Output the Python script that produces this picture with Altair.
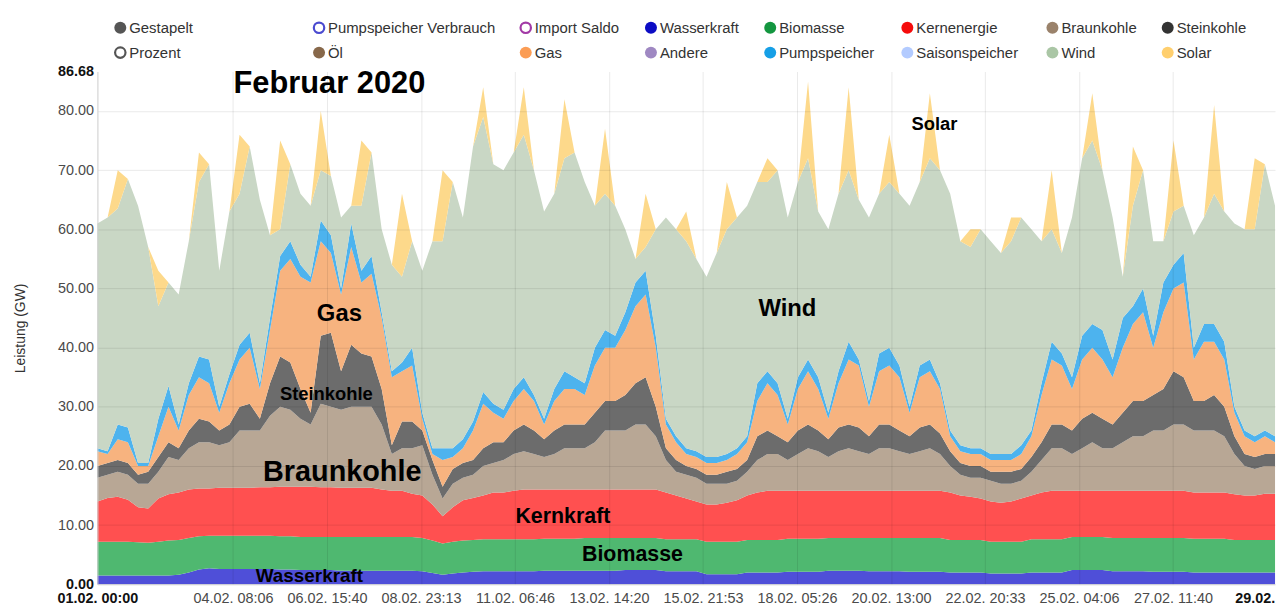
import altair as alt
import pandas as pd
from datetime import datetime, timezone

# ---------------- data: 6-hourly samples, 01.02.2020 00:00 .. 01.03.2020 00:00 (GW) ----------------
start = pd.Timestamp("2020-02-01 00:00", tz="UTC")
times = pd.date_range(start, periods=117, freq="6h")

wasserkraft = [
    1.5, 1.5, 1.5, 1.5,  1.5, 1.5, 1.5, 1.5,  1.6, 2.0, 2.5, 2.7,  2.6, 2.6, 2.6, 2.6,
    2.6, 2.6, 2.5, 2.5,  2.4, 2.4, 2.4, 2.4,  2.3, 2.3, 2.3, 2.3,  2.3, 2.3, 2.3, 2.3,
    2.2, 1.9, 1.6, 1.8,  2.0, 2.1, 2.2, 2.2,  2.2, 2.2, 2.2, 2.2,  2.3, 2.3, 2.3, 2.3,
    2.3, 2.3, 2.3, 2.3,  2.4, 2.4, 2.4, 2.4,  2.2, 2.2, 2.2, 2.2,  1.7, 1.7, 1.7, 1.7,
    2.0, 2.0, 2.0, 2.0,  2.1, 2.1, 2.1, 2.1,  2.3, 2.3, 2.3, 2.3,  2.2, 2.2, 2.2, 2.2,
    2.1, 2.1, 2.1, 2.1,  2.0, 2.0, 2.0, 2.0,  1.8, 1.8, 1.8, 1.8,  2.0, 2.0, 2.0, 2.0,
    2.4, 2.4, 2.4, 2.4,  2.2, 2.2, 2.2, 2.2,  2.1, 2.1, 2.1, 2.1,  2.0, 2.0, 2.0, 2.0,
    2.0, 2.0, 2.0, 2.0,  2.0]
biomasse = [
    5.7, 5.7, 5.7, 5.7,  5.6, 5.5, 5.7, 5.9,  5.9, 5.8, 5.6, 5.5,  5.6, 5.6, 5.6, 5.6,
    5.6, 5.6, 5.6, 5.6,  5.6, 5.6, 5.6, 5.6,  5.7, 5.7, 5.7, 5.7,  5.7, 5.7, 5.7, 5.7,
    5.6, 5.5, 5.3, 5.4,  5.4, 5.4, 5.4, 5.4,  5.4, 5.4, 5.4, 5.4,  5.4, 5.4, 5.4, 5.4,
    5.5, 5.5, 5.5, 5.5,  5.4, 5.4, 5.4, 5.4,  5.4, 5.4, 5.4, 5.4,  5.5, 5.5, 5.5, 5.5,
    5.5, 5.5, 5.5, 5.5,  5.6, 5.6, 5.6, 5.6,  5.5, 5.5, 5.5, 5.5,  5.6, 5.6, 5.6, 5.6,
    5.7, 5.7, 5.7, 5.7,  5.5, 5.5, 5.5, 5.5,  5.4, 5.4, 5.4, 5.4,  5.6, 5.6, 5.6, 5.6,
    5.6, 5.6, 5.6, 5.6,  5.6, 5.6, 5.6, 5.6,  5.7, 5.7, 5.7, 5.7,  5.7, 5.7, 5.7, 5.7,
    5.5, 5.5, 5.5, 5.5,  5.5]
kernenergie = [
    6.8, 7.4, 7.6, 7.1,  5.9, 5.8, 7.3, 7.8,  8.0, 8.2, 8.1, 8.0,  8.1, 8.1, 8.1, 8.1,
    8.2, 8.2, 8.4, 8.4,  8.5, 8.5, 8.4, 8.4,  8.3, 8.3, 8.3, 8.3,  8.0, 7.8, 7.8, 7.3,
    7.2, 6.1, 4.6, 5.8,  6.8, 7.1, 7.4, 7.9,  7.9, 8.2, 8.4, 8.4,  8.3, 8.3, 8.3, 8.3,
    8.2, 8.2, 8.2, 8.2,  8.2, 8.2, 8.2, 8.2,  7.9, 7.4, 6.9, 6.4,  6.3, 6.3, 6.6, 7.0,
    7.5, 8.0, 8.3, 8.3,  8.1, 8.1, 8.1, 8.1,  8.0, 8.0, 8.0, 8.0,  8.0, 8.0, 8.0, 8.0,
    8.0, 8.0, 8.0, 8.0,  8.0, 7.5, 7.3, 7.0,  6.8, 6.6, 6.8, 7.3,  7.4, 7.9, 8.2, 8.2,
    7.8, 7.8, 7.8, 7.8,  8.0, 8.0, 8.0, 8.0,  8.0, 8.0, 8.0, 8.0,  7.8, 7.8, 7.8, 7.8,
    7.7, 7.5, 7.5, 7.8,  7.8]
braunkohle = [
    4.0, 3.9, 4.2, 4.2,  4.0, 4.2, 4.5, 6.3,  5.5, 7.0, 7.8, 7.8,  7.2, 7.7, 9.7, 9.7,
    9.6, 12.1, 13.5, 13.0,  11.5, 10.5, 14.1, 13.6,  13.2, 13.7, 13.7, 13.7,  11.0, 6.2, 7.2, 7.7,
    8.5, 5.0, 3.0, 4.0,  3.8, 3.9, 5.0, 5.0,  5.5, 6.2, 6.5, 6.0,  5.5, 6.0, 7.0, 7.0,
    7.0, 8.0, 10.0, 10.0,  10.0, 11.0, 11.0, 9.0,  5.5, 4.0, 4.0, 4.0,  3.5, 3.5, 3.2, 3.3,
    4.0, 5.5, 6.2, 6.2,  5.2, 6.2, 7.2, 6.7,  5.7, 6.7, 7.2, 6.7,  6.2, 7.2, 7.2, 6.7,
    6.2, 6.7, 7.2, 6.2,  4.5, 3.5, 3.2, 3.5,  3.5, 3.2, 3.0, 3.0,  4.0, 5.5, 7.2, 7.2,
    6.2, 7.2, 8.2, 7.2,  7.2, 8.2, 9.2, 9.2,  10.2, 10.2, 11.2, 11.2,  10.5, 10.5, 10.5, 9.5,
    6.8, 5.0, 4.5, 4.7,  4.7]
steinkohle = [
    2.0, 2.0, 2.0, 2.0,  1.5, 2.0, 2.5, 2.5,  2.0, 3.0, 4.0, 3.5,  2.5, 3.0, 4.0, 4.5,
    2.0, 5.5, 8.5, 8.0,  5.0, 2.0, 11.5, 12.5,  6.5, 10.5, 9.0, 8.5,  6.0, 1.5, 4.5, 4.5,
    2.5, 2.5, 2.0, 2.5,  2.5, 2.5, 3.0, 3.5,  3.0, 4.0, 4.5, 4.0,  3.0, 4.0, 4.0, 4.0,
    4.0, 5.0, 5.0, 5.0,  6.0, 7.0, 8.0, 5.0,  2.0, 2.0, 1.5, 1.5,  1.5, 1.5, 2.0, 2.0,
    2.0, 4.0, 4.0, 3.0,  3.0, 4.0, 4.0, 3.5,  3.0, 4.0, 4.0, 4.0,  3.0, 4.0, 4.0, 3.5,
    3.0, 4.0, 4.0, 3.5,  2.5, 2.0, 2.0, 2.0,  1.5, 2.0, 2.0, 2.0,  2.5, 3.0, 4.0, 4.0,
    4.0, 5.0, 5.0, 5.0,  4.0, 5.0, 6.0, 6.0,  6.0, 7.0, 9.0, 8.0,  5.0, 5.0, 6.0, 5.0,
    3.0, 2.0, 2.0, 2.0,  2.0]
gas = [
    2.5, 1.5, 3.5, 3.5,  1.5, 1.0, 3.5, 6.0,  3.0, 6.0, 7.0, 6.5,  3.0, 7.0, 8.0, 9.5,
    5.0, 9.0, 14.5, 17.5,  19.0, 22.0, 16.0, 13.5,  13.0, 16.5, 12.0, 14.0,  12.0, 11.5, 8.5, 9.5,
    2.0, 1.0, 4.5, 2.0,  2.5, 5.0, 7.5, 5.0,  4.0, 5.0, 6.0, 5.0,  2.5, 5.0, 6.0, 6.0,
    5.0, 8.0, 9.0, 9.0,  11.0, 13.0, 14.0, 10.0,  4.0, 3.0, 2.0, 2.0,  2.0, 2.0, 2.0, 2.5,
    3.0, 6.0, 8.0, 7.0,  3.0, 7.0, 9.0, 7.0,  3.5, 7.5, 11.0, 10.5,  5.0, 9.0, 10.0, 9.0,
    4.0, 8.5, 9.0, 7.5,  2.5, 2.0, 2.0, 2.0,  2.0, 2.0, 2.0, 2.5,  3.5, 8.0, 11.0, 10.0,
    7.0, 10.0, 11.0, 10.0,  8.0, 11.0, 13.0, 15.0,  8.0, 13.0, 14.0, 16.0,  7.0, 10.0, 9.0, 8.0,
    4.0, 3.0, 2.5, 3.0,  2.0]
pumpspeicher = [
    0.5, 0.5, 2.5, 2.5,  0.5, 0.5, 3.0, 3.5,  1.0, 2.0, 3.5, 4.0,  1.0, 1.5, 2.5, 2.5,
    1.0, 2.0, 2.5, 3.0,  2.0, 1.0, 3.5, 3.0,  1.0, 4.0, 2.0, 3.0,  1.0, 1.0, 1.5, 3.0,
    1.0, 1.0, 2.0, 1.5,  1.5, 1.5, 2.0, 1.5,  1.5, 2.0, 2.0, 1.0,  1.0, 2.0, 3.0, 2.0,
    2.0, 3.0, 3.0, 2.0,  3.0, 4.0, 4.0, 2.0,  1.0, 1.0, 1.0, 1.0,  1.0, 1.0, 1.0, 1.0,
    1.0, 3.0, 2.0, 2.0,  1.0, 2.0, 2.0, 2.0,  1.0, 2.0, 3.0, 1.0,  1.0, 3.0, 3.0, 2.0,
    1.0, 2.0, 2.0, 1.0,  1.0, 1.0, 1.0, 1.0,  1.0, 1.0, 1.0, 1.5,  1.0, 2.0, 3.0, 2.0,
    2.0, 4.0, 4.0, 5.0,  3.0, 5.0, 3.0, 4.0,  2.0, 5.0, 4.0, 5.0,  2.0, 3.0, 3.0, 3.0,
    1.0, 1.0, 1.0, 1.0,  1.0]
wind = [
    38.0, 39.5, 36.5, 42.0,  43.5, 36.5, 19.0, 17.5,  22.0, 24.0, 29.5, 33.0,  23.0, 27.5, 25.5, 31.5,
    31.0, 14.0, 4.5, 13.0,  12.0, 12.0, 8.5, 10.0,  12.0, 3.0, 11.0, 17.5,  14.0, 18.0, 14.5, 18.0,
    24.0, 35.0, 35.0, 45.0,  37.5, 46.5, 46.5, 40.5,  40.5, 40.0, 41.0, 38.0,  35.0, 33.0, 36.0, 38.0,
    34.0, 24.0, 23.0, 22.0,  14.0, 4.0, 4.0, 18.0,  34.0, 35.0, 35.0, 32.5,  30.5, 34.5, 38.0, 39.0,
    39.0, 34.0, 32.0, 36.0,  34.0, 33.0, 34.0, 28.0,  31.0, 30.0, 29.0, 27.0,  31.0, 27.0, 28.0, 29.0,
    34.0, 31.0, 34.0, 36.0,  40.0, 34.5, 34.0, 37.0,  36.0, 34.0, 36.0, 38.5,  34.0, 24.0, 19.0, 17.0,
    27.0, 30.0, 31.0, 27.0,  24.0, 7.0, 17.0, 20.0,  16.0, 7.0, 9.0, 8.0,  19.0, 18.0, 22.0, 22.0,
    31.0, 34.0, 35.0, 45.0,  39.0]
solar = [
    0, 0, 6.5, 0,  0, 0, 6.0, 0,  0, 0, 5.0, 0,  0, 0, 10.0, 0,
    0, 0, 15.0, 0,  0, 0, 10.0, 0,  0, 0, 11.0, 0,  0, 0, 14.0, 0,
    0, 0, 12.0, 0,  0, 0, 5.0, 0,  0, 0, 8.0, 0,  0, 0, 10.0, 0,
    0, 0, 11.0, 0,  0, 0, 9.0, 0,  0, 0, 5.0, 0,  0, 0, 8.0, 0,
    0, 0, 4.0, 0,  0, 0, 13.0, 0,  0, 0, 14.0, 0,  0, 0, 8.0, 0,
    0, 0, 11.0, 0,  0, 0, 3.0, 0,  0, 0, 4.0, 0,  0, 0, 10.0, 0,
    0, 0, 8.0, 0,  0, 0, 10.0, 0,  0, 0, 12.0, 0,  0, 0, 15.0, 0,
    0, 0, 12.0, 0,  0]

sources = ["Wasserkraft", "Biomasse", "Kernenergie", "Braunkohle", "Steinkohle",
           "Gas", "Pumpspeicher", "Wind", "Solar"]
series = [wasserkraft, biomasse, kernenergie, braunkohle, steinkohle,
          gas, pumpspeicher, wind, solar]
area_colors = ["#4f4fd8", "#4fb870", "#ff5050", "#b8a795", "#6c6c6c",
               "#f7b37f", "#4db3ee", "#c9d7c5", "#fdd98b"]

# axis tick labels
x_tick_labels = ["01.02. 00:00", "04.02. 08:06", "06.02. 15:40", "08.02. 23:13",
                 "11.02. 06:46", "13.02. 14:20", "15.02. 21:53", "18.02. 05:26",
                 "20.02. 13:00", "22.02. 20:33", "25.02. 04:06", "27.02. 11:40", "29.02."]
y_tick_values = [0, 10, 20, 30, 40, 50, 60, 70, 80, 86.68]

# legend entries (column-major: row 1, row 2 per column)
legend_names = ["Gestapelt", "Prozent", "Pumpspeicher Verbrauch", "Öl", "Import Saldo", "Gas",
                "Wasserkraft", "Andere", "Biomasse", "Pumpspeicher", "Kernenergie",
                "Saisonspeicher", "Braunkohle", "Wind", "Steinkohle", "Solar"]
legend_colors = ["#555555", "#555555", "#4a4ad0", "#87684a", "#a23aa6", "#fb9d55",
                 "#0c0cc4", "#9f88c2", "#13963f", "#169fe6", "#f50b0b",
                 "#b3cbff", "#9a826b", "#aac6a5", "#333333", "#ffcf6e"]
legend_hollow = ["Prozent", "Pumpspeicher Verbrauch", "Import Saldo"]

# annotations: (text, hours since start, GW, font size)
annotations = [
    ("Februar 2020", 137.1, 84.5, 31),
    ("Gas", 143.0, 45.7, 24),
    ("Steinkohle", 135.3, 32.1, 18.5),
    ("Braunkohle", 144.7, 19.0, 29),
    ("Kernkraft", 275.1, 11.4, 21.5),
    ("Biomasse", 316.2, 4.9, 21.5),
    ("Wasserkraft", 125.3, 1.35, 19),
    ("Wind", 407.8, 46.5, 24),
    ("Solar", 494.7, 77.8, 18.5),
]

# ---------------- build tables ----------------
def ms(ts):
    return int(ts.timestamp() * 1000)

start_ms = ms(start)
end_ms = ms(times[-1])

rows = []
for i, t in enumerate(times):
    for k, (name, vals) in enumerate(zip(sources, series)):
        rows.append({"t": ms(t), "source": name, "order": k, "gw": vals[i]})
df = pd.DataFrame(rows)

tick_ms = []
for lab in x_tick_labels:
    if len(lab) > 7:
        d = datetime.strptime("2020 " + lab, "%Y %d.%m. %H:%M").replace(tzinfo=timezone.utc)
    else:
        d = datetime.strptime("2020 " + lab + " 12:00", "%Y %d.%m. %H:%M").replace(tzinfo=timezone.utc)
    tick_ms.append(int(d.timestamp() * 1000))
last_tick = tick_ms[-1]

# legend layout (pixels relative to plot area)
col_x = [23, 223, 431, 557, 677, 815, 961, 1077]
row_y = [-44, -19]
leg = pd.DataFrame({
    "name": legend_names,
    "col": legend_colors,
    "lx": [col_x[i // 2] for i in range(len(legend_names))],
    "ly": [row_y[i % 2] for i in range(len(legend_names))],
    "hollow": [n in legend_hollow for n in legend_names],
})

ann = pd.DataFrame({
    "label": [a[0] for a in annotations],
    "t": [start_ms + int(a[1] * 3600000) for a in annotations],
    "v": [a[2] for a in annotations],
    "fs": [a[3] for a in annotations],
})

FONT = "Liberation Sans"
GRID = "#000000"

x_enc = alt.X(
    "t:T",
    scale=alt.Scale(type="utc", domain=[start_ms, end_ms], nice=False),
    axis=alt.Axis(
        title=None, values=tick_ms, ticks=False, labelPadding=7, labelFontSize=14.5,
        labelOverlap=False, labelFlush=False, zindex=1,
        labelExpr=f"datum.value >= {last_tick} ? '29.02.' : utcFormat(datum.value, '%d.%m. %H:%M')",
        labelColor={"condition": {"test": f"datum.value <= {start_ms} || datum.value >= {last_tick}", "value": "#111111"}, "value": "#4a4a4a"},
        labelFontWeight={"condition": {"test": f"datum.value <= {start_ms} || datum.value >= {last_tick}", "value": "bold"}, "value": "normal"},
        gridOpacity={"condition": {"test": f"datum.value >= {last_tick} || datum.value <= {start_ms}", "value": 0}, "value": 0.09},
        gridColor=GRID, domainColor="#cccccc",
    ),
)
y_enc = alt.Y(
    "gw:Q", stack="zero",
    scale=alt.Scale(domain=[0, 86.68], nice=False, zero=True),
    axis=alt.Axis(
        title="Leistung (GW)", values=y_tick_values, format=".2f", ticks=False,
        labelPadding=4, labelFontSize=14.5, titleFontSize=14, titleFontWeight="normal",
        titleColor="#333333", titlePadding=30, zindex=1,
        labelColor={"condition": {"test": "datum.value == 0 || datum.value > 85", "value": "#111111"}, "value": "#4a4a4a"},
        labelFontWeight={"condition": {"test": "datum.value == 0 || datum.value > 85", "value": "bold"}, "value": "normal"},
        gridOpacity={"condition": {"test": "datum.value == 0 || datum.value > 85", "value": 0}, "value": 0.09},
        gridColor=GRID, domainColor="#cccccc",
    ),
)

areas = alt.Chart(df).mark_area(interpolate="linear").encode(
    x=x_enc,
    y=y_enc,
    color=alt.Color("source:N", scale=alt.Scale(domain=sources, range=area_colors), legend=None),
    order=alt.Order("order:Q", sort="ascending"),
)

texts = alt.Chart(ann).mark_text(font=FONT, fontWeight="bold", color="#000000",
                                 align="center", baseline="middle").encode(
    x=alt.X("t:T"),
    y=alt.Y("v:Q"),
    text="label:N",
    size=alt.Size("fs:Q", scale=None, legend=None),
)

leg_filled = alt.Chart(leg).transform_filter("!datum.hollow").mark_circle(size=145, opacity=1).encode(
    x=alt.X("lx:Q", scale=None, axis=None),
    y=alt.Y("ly:Q", scale=None, axis=None),
    color=alt.Color("col:N", scale=None, legend=None),
)
leg_hollow = alt.Chart(leg).transform_filter("datum.hollow").mark_point(
    size=110, filled=False, strokeWidth=2.2, opacity=1).encode(
    x=alt.X("lx:Q", scale=None, axis=None),
    y=alt.Y("ly:Q", scale=None, axis=None),
    color=alt.Color("col:N", scale=None, legend=None),
)
leg_text = alt.Chart(leg).mark_text(font=FONT, fontSize=15, color="#333333",
                                    align="left", baseline="middle", dx=9).encode(
    x=alt.X("lx:Q", scale=None, axis=None),
    y=alt.Y("ly:Q", scale=None, axis=None),
    text="name:N",
)

chart = alt.layer(areas, texts, leg_filled, leg_hollow, leg_text).properties(
    width=1185, height=516,
    autosize=alt.AutoSizeParams(type="none"),
    padding={"left": 90, "top": 62, "right": 5, "bottom": 23},
).configure(font=FONT).configure_view(stroke=None)

chart.save("out.html", embed_options={"renderer": "svg", "actions": False})
